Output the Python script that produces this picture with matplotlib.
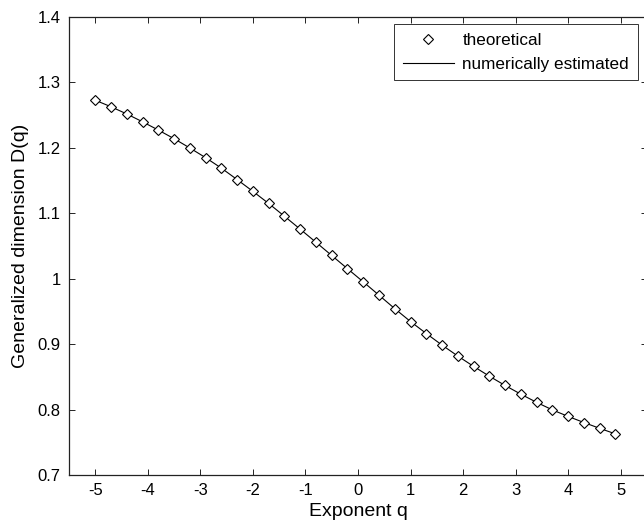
import matplotlib
matplotlib.use("Agg")
import matplotlib.pyplot as plt

plt.rcParams["font.family"] = ["Liberation Sans", "DejaVu Sans"]

# Exponent values and generalized dimensions D(q)
q_values = [-5.0, -4.7, -4.4, -4.1, -3.8, -3.5, -3.2, -2.9, -2.6, -2.3,
            -2.0, -1.7, -1.4, -1.1, -0.8, -0.5, -0.2, 0.1, 0.4, 0.7,
            1.0, 1.3, 1.6, 1.9, 2.2, 2.5, 2.8, 3.1, 3.4, 3.7,
            4.0, 4.3, 4.6, 4.9]
d_theoretical = [1.2728, 1.2628, 1.2518, 1.2398, 1.2272, 1.2140, 1.1998, 1.1850, 1.1690, 1.1515,
                 1.1335, 1.1150, 1.0955, 1.0757, 1.0557, 1.0355, 1.0153, 0.9952, 0.9748, 0.9542,
                 0.9345, 0.9162, 0.8985, 0.8818, 0.8660, 0.8510, 0.8368, 0.8235, 0.8110, 0.7995,
                 0.7895, 0.7802, 0.7713, 0.7628]
d_estimated = [1.2728, 1.2628, 1.2518, 1.2398, 1.2272, 1.2140, 1.1998, 1.1850, 1.1690, 1.1515,
               1.1335, 1.1150, 1.0955, 1.0757, 1.0557, 1.0355, 1.0153, 0.9952, 0.9748, 0.9542,
               0.9345, 0.9162, 0.8985, 0.8818, 0.8660, 0.8510, 0.8368, 0.8235, 0.8110, 0.7995,
               0.7895, 0.7802, 0.7713, 0.7628]

x_ticks = [-5, -4, -3, -2, -1, 0, 1, 2, 3, 4, 5]
y_ticks = [0.7, 0.8, 0.9, 1.0, 1.1, 1.2, 1.3, 1.4]
y_tick_labels = ["0.7", "0.8", "0.9", "1", "1.1", "1.2", "1.3", "1.4"]

W, H = 644, 529
fig = plt.figure(figsize=(W / 100, H / 100), dpi=100)
ax = fig.add_axes([69 / W, (H - 475) / H, (647 - 69) / W, (475 - 17) / H])

ax.plot(q_values, d_theoretical, linestyle="none", marker="D", markersize=5.6,
        markerfacecolor="white", markeredgecolor="black", markeredgewidth=0.8,
        label="theoretical", zorder=3)
ax.plot(q_values, d_estimated, color="black", linewidth=0.8,
        label="numerically estimated", zorder=2)

ax.set_xlim(-5.5, 5.5)
ax.set_ylim(0.7, 1.4)
ax.set_xticks(x_ticks)
ax.set_xticklabels([str(t) for t in x_ticks])
ax.set_yticks(y_ticks)
ax.set_yticklabels(y_tick_labels)
ax.tick_params(direction="in", length=4, width=0.6, top=True, right=True,
               labelsize=12, colors="black", pad=6)
for s in ax.spines.values():
    s.set_linewidth(0.9)
    s.set_color("#222222")

ax.set_xlabel("Exponent q", fontsize=14, labelpad=3)
ax.set_ylabel("Generalized dimension D(q)", fontsize=14, labelpad=6)

leg = ax.legend(loc="upper left", bbox_to_anchor=(394 / W, 1 - 24 / H),
                bbox_transform=fig.transFigure, fontsize=12.3, frameon=True,
                fancybox=False, borderpad=0.5, handlelength=3.0,
                handletextpad=0.5, labelspacing=0.55, borderaxespad=0)
leg.get_frame().set_edgecolor("black")
leg.get_frame().set_linewidth(0.7)

fig.savefig("out.png", dpi=100, facecolor="white")
